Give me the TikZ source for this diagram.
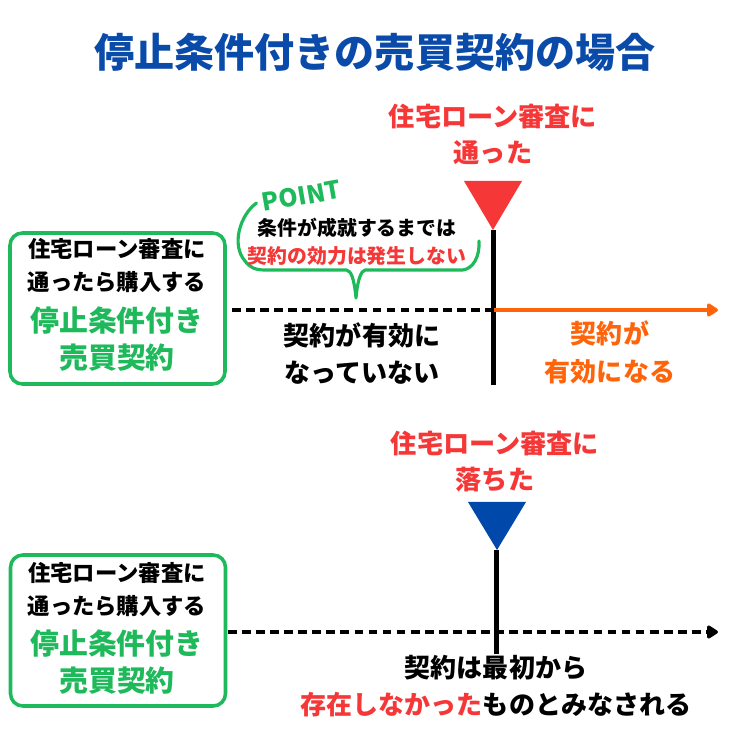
\documentclass[tikz,border=0pt]{standalone}
\usepackage{fontspec}
\setmainfont{Noto Sans CJK JP}
\usepackage{tikz}
\usetikzlibrary{arrows.meta,positioning,calc}
\definecolor{headBlue}{RGB}{10,75,170}
\definecolor{passRed}{RGB}{245,55,55}
\definecolor{condGreen}{RGB}{30,185,90}
\definecolor{validOrange}{RGB}{255,100,10}
\definecolor{failBlue}{RGB}{0,72,170}
\tikzset{
  condbox/.style={draw=condGreen,line width=2pt,rounded corners=7pt,minimum width=4.3cm,minimum height=3.02cm},
  smalltxt/.style={align=center,inner sep=0pt,font=\bfseries\fontsize{12.7}{18.7}\selectfont},
  condtxt/.style={align=center,inner sep=0pt,text=condGreen,font=\bfseries\fontsize{16.4}{21}\selectfont},
  labeltxt/.style={align=center,inner sep=0pt,text=passRed,font=\bfseries\fontsize{14.9}{20.5}\selectfont},
  midtxt/.style={align=center,inner sep=0pt,font=\bfseries\fontsize{14.8}{21.5}\selectfont},
  timeline/.style={line width=2.2pt,dash pattern=on 5pt off 3pt},
  marker/.style={line width=2.6pt}
}

\begin{document}
\begin{tikzpicture}[scale=1.0]
  \useasboundingbox (0,0) rectangle (15,15);
  % title
  \node[text=headBlue,font=\bfseries\fontsize{22.8}{27}\selectfont] (title) at (7.5,13.96) {停止条件付きの売買契約の場合};

  % --- upper case: loan approved ---
  \node[condbox] (cond1) at (2.35,8.83) {};
  \node[smalltxt] (cond1a) at (2.34,9.69) {住宅ローン審査に\\通ったら購入する};
  \node[condtxt] (cond1b) at (2.34,8.21) {停止条件付き\\売買契約};
  \node[labeltxt] (pass) at (9.86,12.31) {住宅ローン審査に\\通った};
  \fill[passRed] (9.28,11.38) -- (10.44,11.38) -- (9.86,10.40) -- cycle;
  \coordinate (passTip) at (9.87,10.40);
  \coordinate (passEnd) at (9.87,7.30);
  \draw[marker] (passTip) -- (passEnd);
  % time line
  \coordinate (tl1s) at (4.64,8.8);
  \coordinate (tl1m) at (9.87,8.8);
  \coordinate (tl1e) at (14.36,8.8);
  \draw[timeline] (tl1s) -- (tl1m);
  \draw[line width=2.2pt,validOrange,-{Triangle[length=7pt,width=8.5pt,round]}] (tl1m) -- (tl1e);
  \node[midtxt] (before) at (7.24,7.93) {契約が有効に\\なっていない};
  \node[midtxt,text=validOrange] (after) at (12.2,7.95) {契約が\\有効になる};
  % point bubble
  \draw[condGreen,line width=1.8pt,line cap=round,line join=round]
    (5.13,10.94) .. controls (4.80,10.70) and (4.62,10.10) .. (4.90,9.78)
    .. controls (5.00,9.65) and (5.10,9.60) .. (5.30,9.60) -- (6.93,9.60)
    .. controls (7.02,9.58) and (7.08,9.45) .. (7.12,9.04)
    .. controls (7.15,9.40) and (7.22,9.58) .. (7.30,9.60) -- (9.25,9.60)
    .. controls (9.45,9.62) and (9.60,9.85) .. (9.58,10.18);
  \node[rotate=10,text=condGreen,font=\bfseries\fontsize{14}{14}\selectfont] (point) at (6.03,11.08) {POINT};
  \node[align=center,inner sep=0pt,font=\bfseries\fontsize{11.3}{15.9}\selectfont] (note) at (7.14,10.16)
    {条件が成就するまでは\\\color{passRed}契約の効力は発生しない};

  % --- lower case: loan rejected ---
  \node[condbox] (cond2) at (2.36,2.39) {};
  \node[smalltxt] (cond2a) at (2.34,3.21) {住宅ローン審査に\\通ったら購入する};
  \node[condtxt] (cond2b) at (2.34,1.75) {停止条件付き\\売買契約};
  \node[labeltxt] (fail) at (9.9,5.77) {住宅ローン審査に\\落ちた};
  \fill[failBlue] (9.36,4.96) -- (10.52,4.96) -- (9.94,4.0) -- cycle;
  \coordinate (failTip) at (9.93,4.0);
  \node[midtxt] (void) at (9.92,1.28) {契約は最初から\\{\color{passRed}存在しなかった}ものとみなされる};
  \draw[marker] (failTip) -- (failTip |- void.north);
  % time line
  \coordinate (tl2s) at (4.56,2.36);
  \coordinate (tl2e) at (14.36,2.36);
  \draw[timeline,-{Triangle[length=7pt,width=8.5pt,round]}] (tl2s) -- (tl2e);
\end{tikzpicture}
\end{document}
